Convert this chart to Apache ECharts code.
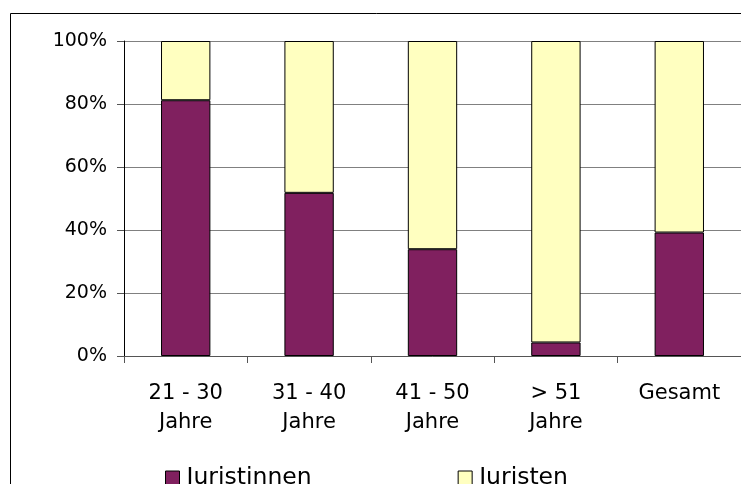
<!DOCTYPE html>
<html>
<head>
<meta charset="utf-8">
<script src="https://cdn.jsdelivr.net/npm/echarts@6/dist/echarts.min.js"></script>
<style>
  html, body { margin: 0; padding: 0; background: #fff; }
  #chart { width: 741px; height: 484px; }
</style>
</head>
<body>
<div id="chart"></div>
<script>
// Kategorien und Anteile (in %)
const categories = ['21 - 30\nJahre', '31 - 40\nJahre', '41 - 50\nJahre', '> 51\nJahre', 'Gesamt'];
const juristinnen = [81.2, 51.8, 33.9, 4.3, 39.2];
const juristen = [18.8, 48.2, 66.1, 95.7, 60.8];
const yTicks = [0, 20, 40, 60, 80, 100];

const FONT = 'DejaVu Sans';
const chart = echarts.init(document.getElementById('chart'), null, { renderer: 'canvas' });

chart.setOption({
  backgroundColor: '#fff',
  animation: false,
  textStyle: { fontFamily: FONT, color: '#000' },
  graphic: [{
    type: 'rect',
    shape: { x: 10.5, y: 13.5, width: 800, height: 600 },
    style: { fill: 'none', stroke: '#000', lineWidth: 1 },
    silent: true
  }],
  grid: { left: 124, right: 0, top: 41, bottom: 128, containLabel: false },
  legend: {
    left: 160,
    top: 461,
    itemWidth: 14,
    itemHeight: 14,
    itemGap: 146,
    icon: 'rect',
    itemStyle: { borderColor: '#000', borderWidth: 1 },
    textStyle: { fontFamily: FONT, fontSize: 23.5, color: '#000', padding: [0, 0, 0, 2] },
    data: ['Juristinnen', 'Juristen']
  },
  xAxis: {
    type: 'category',
    data: categories,
    axisLine: { lineStyle: { color: '#555', width: 1 } },
    axisTick: { show: true, length: 7, lineStyle: { color: '#555' } },
    axisLabel: { fontFamily: FONT, fontSize: 21, color: '#000', margin: 23, lineHeight: 29, interval: 0 }
  },
  yAxis: {
    type: 'value',
    min: yTicks[0],
    max: yTicks[yTicks.length - 1],
    interval: 20,
    axisLine: { show: true, lineStyle: { color: '#000', width: 1 } },
    axisTick: { show: true, length: 7, lineStyle: { color: '#555' } },
    splitLine: { show: true, lineStyle: { color: '#808080', width: 1 } },
    axisLabel: { fontFamily: FONT, fontSize: 19, color: '#000', margin: 17, formatter: '{value}%' }
  },
  series: [
    {
      name: 'Juristinnen',
      type: 'bar',
      stack: 'total',
      barWidth: '40%',
      data: juristinnen,
      itemStyle: { color: '#80205F', borderColor: '#000', borderWidth: 1 }
    },
    {
      name: 'Juristen',
      type: 'bar',
      stack: 'total',
      barWidth: '40%',
      data: juristen,
      itemStyle: { color: '#FFFFC0', borderColor: '#000', borderWidth: 1 }
    }
  ]
});
</script>
</body>
</html>
